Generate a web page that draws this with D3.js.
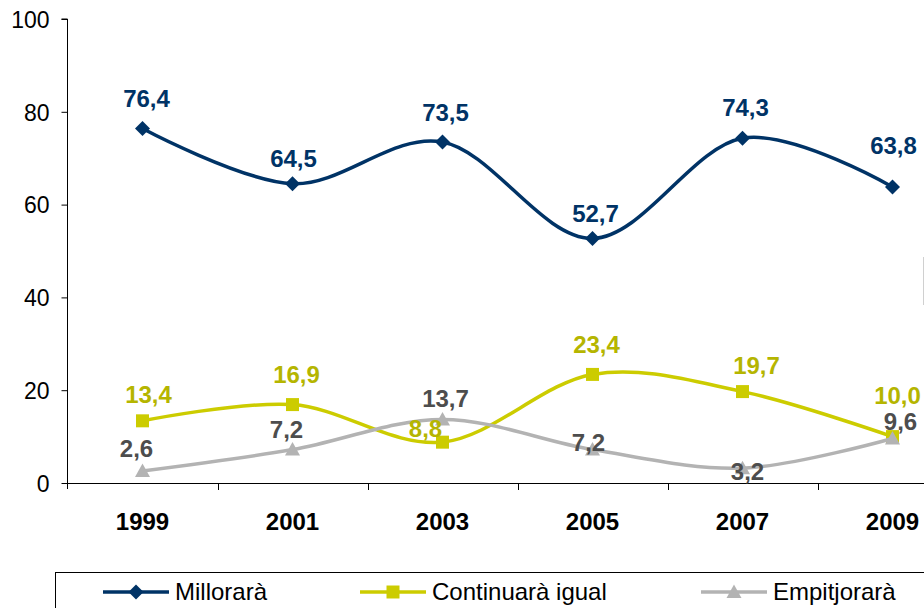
<!doctype html>
<html>
<head>
  <meta charset="utf8">
  <title>sketch</title>
  <style>
    body {
      margin: 0;
      padding: 0;
      background: #fff;
    }
    svg text {
      font-family: "Liberation Sans", Arial, sans-serif;
    }
  </style>
</head>
<body>
  <svg></svg>

  <script src="https://d3js.org/d3.v7.min.js"></script>
  <script>
    // data
    const years = ['1999', '2001', '2003', '2005', '2007', '2009']
    const millorara = [76.4, 64.5, 73.5, 52.7, 74.3, 63.8]
    const continuara = [13.4, 16.9, 8.8, 23.4, 19.7, 10.0]
    const empitjorara = [2.6, 7.2, 13.7, 7.2, 3.2, 9.6]
    const yTicks = [0, 20, 40, 60, 80, 100]

    const series = [
      { name: 'Millorarà', values: millorara, line: '#003366', label: '#003366', marker: 'diamond' },
      { name: 'Continuarà igual', values: continuara, line: '#cccc00', label: '#b5b500', marker: 'square' },
      { name: 'Empitjorarà', values: empitjorara, line: '#b3b3b3', label: '#4d4d4d', marker: 'triangle' }
    ]

    // label nudges [dx, dy] relative to each point, like Excel moved them
    const labelNudge = {
      'Millorarà': [[4, -22], [1, -17], [3, -21], [3, -16], [3, -22], [1, -33]],
      'Continuarà igual': [[6, -18], [4, -22], [-17, -5], [4, -21], [14, -18], [5, -33]],
      'Empitjorarà': [[-6, -14], [-6, -12], [3, -12], [-4, 1], [5, 12], [8, -8]]
    }

    const width = 924
    const height = 608
    const left = 67.5
    const band = 150

    const svg = d3.select('svg')
      .attr('width', width)
      .attr('height', height)

    const x = d3.scaleBand()
      .domain(years)
      .range([left, left + band * years.length])

    const y = d3.scaleLinear()
      .domain([0, 100])
      .range([483, 19])

    const fmt = v => d3.format('.1f')(v).replace('.', ',')

    // y axis
    const yAxis = svg.append('g')
      .attr('transform', `translate(${left},0)`)
      .call(d3.axisLeft(y).tickValues(yTicks).tickSize(6).tickPadding(12))
    yAxis.select('.domain')
      .attr('d', `M-6,${y(100)}H0V${y(0) + 6}`)
      .attr('stroke', '#000')
    yAxis.selectAll('.tick line').attr('stroke', '#000')
    yAxis.selectAll('.tick text')
      .attr('font-size', 23)
      .attr('fill', '#000')
      .attr('dy', '0.36em')

    // x axis with ticks between categories
    const xAxis = svg.append('g')
    xAxis.append('line')
      .attr('x1', left).attr('x2', width + 50)
      .attr('y1', y(0) + 0.5).attr('y2', y(0) + 0.5)
      .attr('stroke', '#000')
    xAxis.selectAll('.sep')
      .data(years.slice(1))
      .join('line')
      .attr('class', 'sep')
      .attr('x1', d => Math.round(x(d)) + 0.5)
      .attr('x2', d => Math.round(x(d)) + 0.5)
      .attr('y1', y(0))
      .attr('y2', y(0) + 7)
      .attr('stroke', '#000')
    xAxis.selectAll('.cat')
      .data(years)
      .join('text')
      .attr('class', 'cat')
      .attr('x', d => x(d) + x.bandwidth() / 2)
      .attr('y', 530)
      .attr('text-anchor', 'middle')
      .attr('font-size', 24)
      .attr('font-weight', 'bold')
      .attr('fill', '#000')
      .text(d => d)

    const cx = (d, i) => x(years[i]) + x.bandwidth() / 2

    const line = d3.line()
      .x(cx)
      .y(d => y(d))
      .curve(d3.curveCardinal.tension(0))

    function markerPath (type, size) {
      const h = size / 2
      if (type === 'diamond') return `M0,${-h}L${h},0L0,${h}L${-h},0Z`
      if (type === 'square') return `M${-h + 1},${-h + 1}H${h - 1}V${h - 1}H${-h + 1}Z`
      return `M0,${-h}L${h},${h * 0.8}L${-h},${h * 0.8}Z`
    }

    // series order as in the workbook: later series on top
    series.forEach(s => {
      const g = svg.append('g')
      g.append('path')
        .datum(s.values)
        .attr('d', line)
        .attr('fill', 'none')
        .attr('stroke', s.line)
        .attr('stroke-width', 3.5)
      g.selectAll('.mk')
        .data(s.values)
        .join('path')
        .attr('class', 'mk')
        .attr('transform', (d, i) => `translate(${cx(d, i)},${y(d)})`)
        .attr('d', markerPath(s.marker, 15))
        .attr('fill', s.line)
    })

    series.forEach(s => {
      svg.append('g').selectAll('text')
        .data(s.values)
        .join('text')
        .attr('x', (d, i) => cx(d, i) + labelNudge[s.name][i][0])
        .attr('y', (d, i) => y(d) + labelNudge[s.name][i][1])
        .attr('text-anchor', 'middle')
        .attr('font-size', 24)
        .attr('font-weight', 'bold')
        .attr('fill', s.label)
        .text(fmt)
    })

    // legend box, cut off by the frame like the original
    const legend = svg.append('g')
    legend.append('rect')
      .attr('x', 55.5)
      .attr('y', 572.5)
      .attr('width', 1000)
      .attr('height', 100)
      .attr('fill', 'none')
      .attr('stroke', '#000')

    const legendX = [103, 360, 701]
    series.forEach((s, i) => {
      const lg = legend.append('g').attr('transform', `translate(${legendX[i]},592)`)
      lg.append('line')
        .attr('x1', 0).attr('x2', 66)
        .attr('stroke', s.line)
        .attr('stroke-width', 3.5)
      lg.append('path')
        .attr('transform', 'translate(33,0)')
        .attr('d', markerPath(s.marker, 15))
        .attr('fill', s.line)
      lg.append('text')
        .attr('x', 72)
        .attr('y', 8)
        .attr('font-size', 24)
        .attr('fill', '#000')
        .text(s.name)
    })

    // faint edge of a neighbouring frame at the right border
    svg.append('line')
      .attr('x1', 923.5).attr('x2', 923.5)
      .attr('y1', 257).attr('y2', 305)
      .attr('stroke', '#d0d0d0')
  </script>
</body>
</html>
